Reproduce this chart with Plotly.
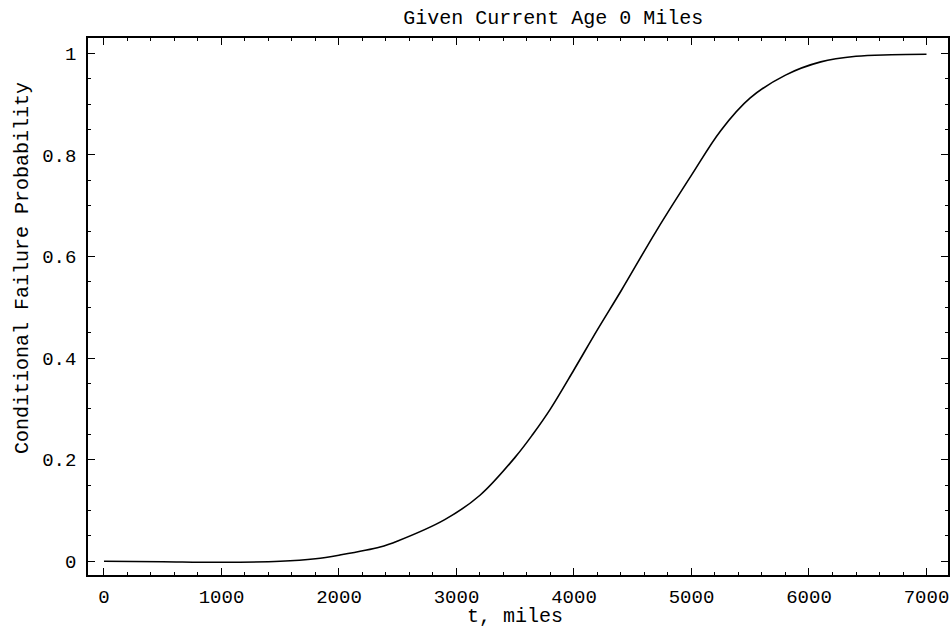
import plotly.graph_objects as go

# Data
t_miles = [0, 500, 1000, 1500, 1800, 2000, 2350, 2500, 2900, 3200, 3500, 3650, 3800,
           4000, 4200, 4400, 4700, 5000, 5250, 5500, 5800, 6100, 6400, 6700, 7000]
prob = [0.0, -0.001, -0.002, 0.0, 0.005, 0.012, 0.028, 0.04, 0.082, 0.13, 0.205, 0.25, 0.30,
        0.377, 0.456, 0.532, 0.65, 0.76, 0.848, 0.912, 0.957, 0.983, 0.994, 0.997, 0.998]

x_ticks = [0, 1000, 2000, 3000, 4000, 5000, 6000, 7000]
y_ticks = [0, 0.2, 0.4, 0.6, 0.8, 1]
y_tick_labels = ["0", "0.2", "0.4", "0.6", "0.8", "1"]

title_text = "Given Current Age 0 Miles"
x_title = "t, miles"
y_title = "Conditional Failure Probability"

FONT = "Liberation Mono, Courier New, monospace"

fig = go.Figure()
fig.add_trace(go.Scatter(x=t_miles, y=prob, mode="lines",
                         line=dict(color="black", width=1.6, shape="spline", smoothing=1.0),
                         hoverinfo="skip", showlegend=False))

axis_common = dict(
    showgrid=False, zeroline=False, showline=True, linecolor="black", linewidth=1.5,
    mirror="allticks", ticks="inside", ticklen=7, tickwidth=1.2, tickcolor="black",
    tickfont=dict(family=FONT, size=19, color="black"), automargin=False,
)

fig.update_xaxes(range=[-136, 7183], tickvals=x_ticks, ticktext=[str(v) for v in x_ticks],
                 minor=dict(dtick=200, ticks="inside", ticklen=3.5, tickwidth=1, tickcolor="black"),
                 ticklabelstandoff=3, **axis_common)
fig.update_yaxes(range=[-0.027, 1.03], tickvals=y_ticks, ticktext=y_tick_labels,
                 minor=dict(dtick=0.05, ticks="inside", ticklen=3.5, tickwidth=1, tickcolor="black"),
                 ticklabelstandoff=6, **axis_common)

W, H = 952, 630
fig.update_layout(
    width=W, height=H,
    margin=dict(l=88, r=4, t=38, b=55, autoexpand=False),
    paper_bgcolor="white", plot_bgcolor="white",
    title=dict(text=title_text, x=515 / W, xanchor="center", y=1 - 17 / H,
               yanchor="middle", xref="paper", yref="container",
               font=dict(family=FONT, size=20, color="black")),
    annotations=[
        dict(text=x_title, xref="paper", yref="paper", x=(515 - 88) / 860, y=(575 - 616) / 537,
             xanchor="center", yanchor="middle", showarrow=False,
             font=dict(family=FONT, size=20, color="black")),
        dict(text=y_title, xref="paper", yref="paper", x=(22 - 88) / 860, y=(575 - 268) / 537,
             xanchor="center", yanchor="middle", showarrow=False, textangle=-90,
             font=dict(family=FONT, size=20, color="black")),
    ],
)

# Remove the browser's default 8px body margin so the 952x630 figure fills the window exactly.
fig.write_html("out.html", config={"displayModeBar": False},
               post_script="document.body.style.margin='0px';document.body.style.overflow='hidden';")
